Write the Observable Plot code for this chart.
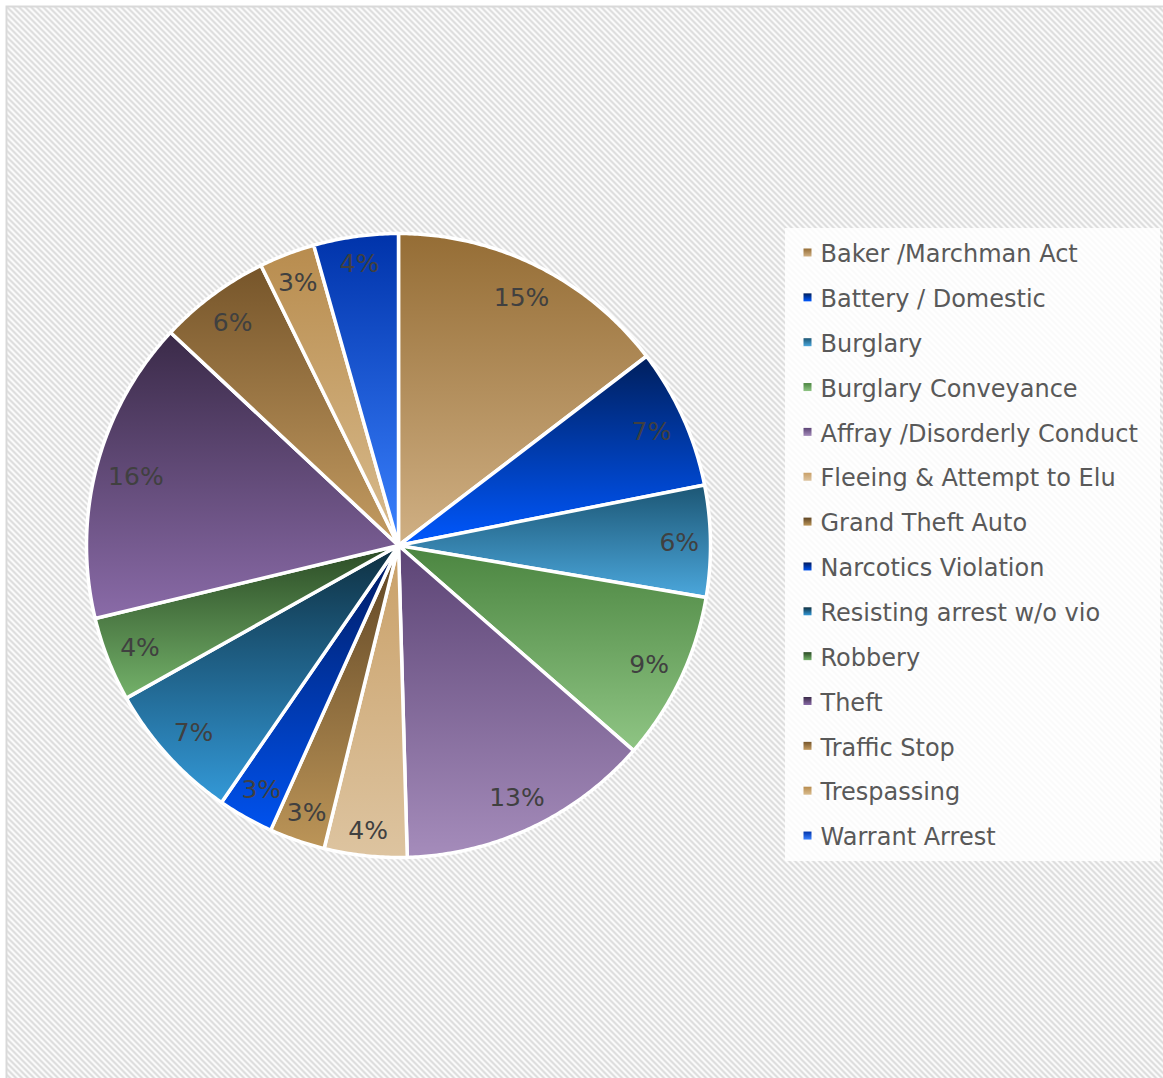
<!DOCTYPE html>
<html>
<head>
<meta charset="utf-8">
<script src="https://cdn.jsdelivr.net/npm/d3@7"></script>
<script src="https://cdn.jsdelivr.net/npm/@observablehq/plot@0.6"></script>
<style>
  html, body { margin: 0; padding: 0; background: #fff; overflow: hidden; }
  #chart svg { display: block; }
</style>
</head>
<body>
<div id="chart"></div>
<script>
// ---- data ----
const categories = [
  "Baker /Marchman Act", "Battery / Domestic", "Burglary", "Burglary Conveyance",
  "Affray /Disorderly Conduct", "Fleeing & Attempt to Elu", "Grand Theft Auto",
  "Narcotics Violation", "Resisting arrest w/o vio", "Robbery", "Theft",
  "Traffic Stop", "Trespassing", "Warrant Arrest"
];
const shares = [14.7, 7.3, 5.8, 8.8, 13.2, 4.3, 2.9, 2.9, 7.3, 4.4, 15.8, 5.8, 2.9, 4.4];
const topColors = [
  "#956d35", "#001f5c", "#1c5674", "#4b8540", "#5c4475", "#c9a068", "#5e4423",
  "#001a60", "#0e2f40", "#2a4a24", "#3a2a48", "#76552a", "#b88c4e", "#0033aa"
];
const bottomColors = [
  "#d0b084", "#0058ff", "#4ba7dc", "#8fc584", "#a58cbb", "#ddc4a0", "#bc9558",
  "#0052ee", "#3399d8", "#74b26a", "#8a6ba8", "#c49c62", "#d9bc8e", "#3b82ff"
];

// ---- layout ----
const W = 1163, H = 1078;
const cx = 398, cy = 545, R = 312;
const total = d3.sum(shares);
const arcs = d3.pie().sort(null).value(d => d)(shares);

const slicePts = [];
arcs.forEach((a, i) => {
  const n = Math.max(4, Math.ceil((a.endAngle - a.startAngle) / (Math.PI / 360)));
  slicePts.push({i, x: cx, y: cy});
  for (let k = 0; k <= n; k++) {
    const t = a.startAngle + (a.endAngle - a.startAngle) * k / n;
    slicePts.push({i, x: cx + R * Math.sin(t), y: cy - R * Math.cos(t)});
  }
  slicePts.push({i, x: cx, y: cy});
});

const labels = arcs.map((a, i) => {
  const mid = (a.startAngle + a.endAngle) / 2;
  const text = Math.round(shares[i] / total * 100) + "%";
  const ux = Math.sin(mid), uy = -Math.cos(mid);
  const hw = ((text.length - 1) * 14 + 26) / 2, hh = 13;
  const d = 301 - (Math.abs(ux) * hw + Math.abs(uy) * hh);
  return {text, x: cx + d * ux, y: cy + d * uy + 1};
});

const rowY0 = 254, rowStep = 44.85;
const legendRows = categories.map((c, i) => ({i, name: c, y: rowY0 + i * rowStep}));

const grad = i => `url(#grad${i})`;
const font = "Verdana, DejaVu Sans, sans-serif";

const svg = Plot.plot({
  width: W,
  height: H,
  margin: 0,
  x: {domain: [0, W], range: [0, W], axis: null},
  y: {domain: [0, H], range: [0, H], axis: null},
  color: {type: "identity"},
  marks: [
    Plot.frame({fill: "url(#hatch)", stroke: "#d9d9d9", strokeWidth: 2,
      insetLeft: 6, insetTop: 6, insetRight: -6, insetBottom: -6}),
    Plot.rect([0], {x1: () => 785, x2: () => 1160,
      y1: () => rowY0 - 26, y2: () => rowY0 + 13 * rowStep + 24,
      fill: "white", fillOpacity: 0.85}),
    Plot.line(slicePts, {x: "x", y: "y", z: "i", fill: d => grad(d.i),
      stroke: "white", strokeWidth: 3.5, strokeLinejoin: "round", curve: "linear"}),
    Plot.text(labels, {x: "x", y: "y", text: "text", fontSize: 25,
      fontFamily: font, fill: "#404040"}),
    Plot.rect(legendRows, {x1: () => 803.5, x2: () => 811.5,
      y1: d => d.y - 5.5, y2: d => d.y + 2.5, fill: d => grad(d.i)}),
    Plot.text(legendRows, {x: () => 820, y: "y", text: "name", textAnchor: "start",
      fontSize: 24, fontFamily: font, fill: "#595959"})
  ]
});

const defs = d3.select(svg).insert("defs", ":first-child");
const pat = defs.append("pattern").attr("id", "hatch")
  .attr("width", 6).attr("height", 6).attr("patternUnits", "userSpaceOnUse");
pat.append("rect").attr("width", 6).attr("height", 6).attr("fill", "#ffffff");
pat.append("path").attr("d", "M-1,-1L7,7M-4,2L2,8M2,-4L8,2")
  .attr("stroke", "#dadada").attr("stroke-width", 2.2);
categories.forEach((c, i) => {
  const g = defs.append("linearGradient").attr("id", `grad${i}`)
    .attr("x1", 0).attr("y1", 0).attr("x2", 0).attr("y2", 1);
  g.append("stop").attr("offset", "0%").attr("stop-color", topColors[i]);
  g.append("stop").attr("offset", "100%").attr("stop-color", bottomColors[i]);
});

document.getElementById("chart").appendChild(svg);
</script>
</body>
</html>
